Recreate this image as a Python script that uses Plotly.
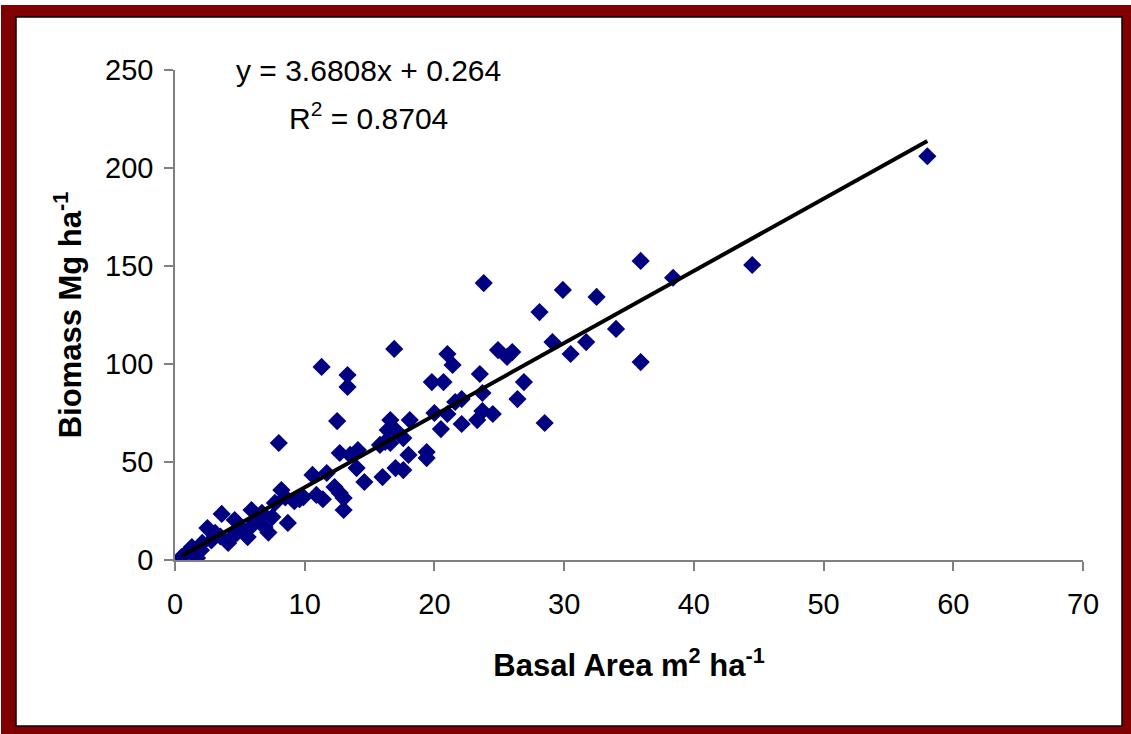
import plotly.graph_objects as go

# Data
basal_area = [0.5, 0.8, 1.2, 1.5, 1.7, 1.3, 2.0, 2.1, 2.5, 2.8, 3.1, 3.5, 3.6, 4.1, 4.3, 4.6, 4.8,
              5.2, 5.6, 5.9, 6.0, 6.4, 6.7, 6.9, 7.2, 7.5, 7.7, 8.0, 8.2, 8.5, 8.7, 9.2, 9.6, 9.9,
              10.6, 10.9, 11.3, 11.4, 11.7, 12.3, 12.5, 12.7, 12.7, 13.0, 13.0, 13.3, 13.3, 13.5,
              14.0, 14.1, 14.6, 15.8, 16.0, 16.2, 16.4, 16.6, 16.6, 16.9, 17.0, 17.0, 17.6, 17.6,
              18.0, 18.1, 19.4, 19.4, 19.8, 20.0, 20.5, 20.7, 21.0, 21.0, 21.4, 21.6, 22.1, 22.1,
              23.3, 23.5, 23.7, 23.7, 23.8, 24.5, 24.9, 25.6, 26.0, 26.4, 26.9, 28.1, 28.5, 29.1,
              29.9, 30.5, 31.7, 32.5, 34.0, 35.9, 35.9, 38.4, 44.5, 58.0]
biomass = [1.5, 3.0, 4.5, 2.5, 1.0, 6.6, 5.0, 8.7, 16.3, 10.0, 13.8, 12.0, 23.5, 8.7, 11.0, 20.4, 14.0,
           15.3, 11.7, 25.5, 18.0, 21.4, 24.0, 16.8, 14.0, 21.9, 29.1, 59.7, 35.7, 32.0, 18.9, 30.0, 31.0, 32.1,
           43.4, 33.2, 98.5, 31.0, 44.4, 37.2, 70.9, 54.6, 34.2, 31.6, 25.5, 94.4, 88.3, 53.6,
           46.9, 56.1, 39.8, 58.7, 42.3, 60.2, 66.3, 71.4, 59.7, 107.7, 66.3, 46.9, 62.2, 45.9,
           53.6, 71.4, 55.1, 52.0, 90.8, 75.0, 66.8, 90.8, 105.1, 74.5, 99.5, 80.6, 82.1, 69.4,
           71.4, 94.9, 85.2, 76.0, 141.3, 74.5, 107.1, 103.6, 106.1, 82.1, 90.8, 126.5, 69.9, 111.2,
           137.8, 105.1, 111.2, 134.2, 117.9, 152.6, 101.0, 144.0, 150.5, 206.0]

slope = 3.6808
intercept = 0.264
fit_x = [min(basal_area), max(basal_area)]
fit_y = [slope * v + intercept for v in fit_x]

x_ticks = [0, 10, 20, 30, 40, 50, 60, 70]
y_ticks = [0, 50, 100, 150, 200, 250]

W, H = 1131, 734
L, R, T, B = 175, 1083, 70, 560  # plot area in pixels


def px(X):
    return (X - L) / (R - L)


def py(Y):
    return (B - Y) / (B - T)


fig = go.Figure()
fig.add_trace(go.Scatter(x=basal_area, y=biomass, mode="markers",
                         marker=dict(symbol="diamond", size=14, color="#000080",
                                     line=dict(width=0)),
                         showlegend=False, hoverinfo="skip"))
fig.add_trace(go.Scatter(x=fit_x, y=fit_y, mode="lines",
                         line=dict(color="black", width=4), showlegend=False,
                         hoverinfo="skip"))

font = "Liberation Sans, Arial, sans-serif"

fig.update_layout(
    width=W, height=H,
    margin=dict(l=L, r=W - R, t=T, b=H - B),
    paper_bgcolor="white",
    plot_bgcolor="rgba(0,0,0,0)",
    font=dict(family=font, size=29, color="black"),
    xaxis=dict(range=[0, 70], tickvals=x_ticks, showgrid=False, zeroline=False,
               showline=True, linecolor="#808080", linewidth=1.5,
               ticks="outside", ticklen=9, tickcolor="#808080", tickwidth=1.5,
               tickfont=dict(size=29), ticklabelstandoff=8,
               title=dict(text="<b>Basal Area m<sup>2</sup> ha<sup>-1</sup></b>",
                          font=dict(size=31), standoff=36)),
    yaxis=dict(range=[0, 250], tickvals=y_ticks, showgrid=False, zeroline=False,
               showline=True, linecolor="#808080", linewidth=1.5,
               ticks="outside", ticklen=9, tickcolor="#808080", tickwidth=1.5,
               tickfont=dict(size=29), ticklabelstandoff=5,
               title=dict(text="<b>Biomass Mg ha<sup>-1</sup></b>",
                          font=dict(size=31), standoff=14)),
    shapes=[
        dict(type="rect", xref="paper", yref="paper", layer="below",
             x0=px(1), x1=px(1131), y0=py(5), y1=py(734),
             fillcolor="#800000", line=dict(width=0)),
        dict(type="rect", xref="paper", yref="paper", layer="below",
             x0=px(16), x1=px(1122), y0=py(17), y1=py(726),
             fillcolor="white", line=dict(color="black", width=1.5)),
    ],
    annotations=[
        dict(text="y = 3.6808x + 0.264", xref="paper", yref="paper",
             x=px(368), y=py(70), showarrow=False, xanchor="center", yanchor="middle",
             font=dict(size=30)),
        dict(text="R<sup>2</sup> = 0.8704", xref="paper", yref="paper",
             x=px(368), y=py(116), showarrow=False, xanchor="center", yanchor="middle",
             font=dict(size=30)),
    ],
)

fig.write_html("out.html", config={"displayModeBar": False},
               post_script="document.body.style.margin='0';")
